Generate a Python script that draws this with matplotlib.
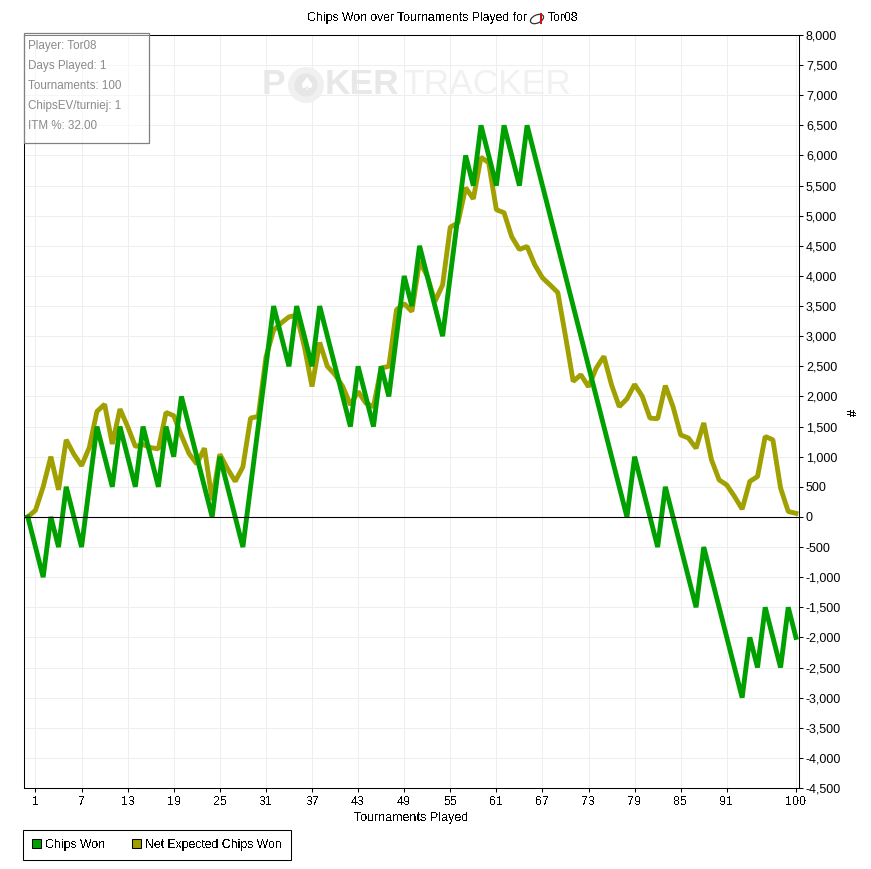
#!/usr/bin/env python
"""Chips won over tournaments played, PokerTracker style graph."""
import matplotlib
matplotlib.use("Agg")
import matplotlib.pyplot as plt
from matplotlib.patches import Ellipse, Patch, Rectangle

W, H = 871, 869
GREEN = "#00a000"
OLIVE = "#a0a000"
GRID = "#eeeeee"

TOURNAMENTS = list(range(0, 101))
CHIPS_WON = [0, -500, -1000, 0, -500, 500, 0, -500, 500, 1500,
             1000, 500, 1500, 1000, 500, 1500, 1000, 500, 1500, 1000,
             2000, 1500, 1000, 500, 0, 1000, 500, 0, -500, 500,
             1500, 2500, 3500, 3000, 2500, 3500, 3000, 2500, 3500, 3000,
             2500, 2000, 1500, 2500, 2000, 1500, 2500, 2000, 3000, 4000,
             3500, 4500, 4000, 3500, 3000, 4000, 5000, 6000, 5500, 6500,
             6000, 5500, 6500, 6000, 5500, 6500, 6000, 5500, 5000, 4500,
             4000, 3500, 3000, 2500, 2000, 1500, 1000, 500, 0, 1000,
             500, 0, -500, 500, 0, -500, -1000, -1500, -500, -1000,
             -1500, -2000, -2500, -3000, -2000, -2500, -1500, -2000, -2500, -1500,
             -2000]
NET_EXPECTED = [0, 110, 500, 1000, 450, 1280, 1040, 850, 1150, 1750,
                1870, 1210, 1790, 1500, 1170, 1200, 1150, 1130, 1735, 1680,
                1350, 1050, 880, 1140, 280, 1040, 800, 590, 830, 1640,
                1670, 2650, 3100, 3220, 3320, 3350, 2830, 2165, 2895, 2500,
                2360, 2165, 1860, 2080, 1890, 1830, 2470, 2500, 3440, 3540,
                3410, 4240, 4000, 3575, 3850, 4810, 4880, 5465, 5280, 5970,
                5880, 5100, 5050, 4650, 4440, 4490, 4185, 3970, 3850, 3725,
                3000, 2250, 2360, 2160, 2470, 2665, 2190, 1830, 1960, 2200,
                2000, 1640, 1630, 2180, 1830, 1360, 1310, 1140, 1560, 950,
                615, 530, 340, 130, 590, 670, 1335, 1280, 480, 90,
                60]
X_TICKS = [1, 7, 13, 19, 25, 31, 37, 43, 49, 55, 61, 67, 73, 79, 85, 91, 100]
Y_TICKS = list(range(-4500, 8001, 500))
INFO_LINES = ["Player: Tor08", "Days Played: 1", "Tournaments: 100",
              "ChipsEV/turniej: 1", "ITM %: 32.00"]

plt.rcParams.update({"font.family": ["Liberation Sans", "DejaVu Sans"], "font.size": 9,
                     "axes.linewidth": 0.75, "xtick.major.width": 0.75, "ytick.major.width": 0.75,
                     "xtick.major.size": 3, "ytick.major.size": 3, "text.antialiased": False})


def px(x, y):
    return x / W, 1 - y / H


def main():
    fig = plt.figure(figsize=(W / 100, H / 100), dpi=100, facecolor="white")
    left, top = px(23.5, 35)
    right, bottom = px(799, 788)
    ax = fig.add_axes([left, bottom, right - left, top - bottom])
    ax.set_xlim(-0.56, 100.4)
    ax.set_ylim(-4500, 8000)
    ax.set_xticks(X_TICKS)
    ax.set_yticks(Y_TICKS)
    ax.set_yticklabels([f"{v:,}" for v in Y_TICKS])
    ax.yaxis.tick_right()
    ax.tick_params(axis="x", colors="black", pad=3)
    ax.tick_params(axis="y", colors="black", pad=2)
    # aliased commas collapse into dots, so these labels stay smooth
    for lab in ax.get_yticklabels():
        lab.set_antialiased(True)
    ax.grid(True, color=GRID, lw=0.72, zorder=0)
    ax.set_axisbelow(True)
    ax.axhline(0, color="black", lw=0.8, zorder=5)
    ax.plot(TOURNAMENTS, NET_EXPECTED, color=OLIVE, lw=3.5, solid_joinstyle="bevel", zorder=3)
    ax.plot(TOURNAMENTS, CHIPS_WON, color=GREEN, lw=3.5, solid_joinstyle="bevel", zorder=4)

    # watermark
    wm = dict(fontsize=25.5, va="center", ha="left", antialiased=True)
    fig.text(*px(262, 85), "P", color="#e8e8e8", fontweight="bold", **wm)
    fig.text(*px(325, 85), "KER", color="#e8e8e8", fontweight="bold", **wm)
    fig.text(*px(402, 85), "TRACKER", color="#f1f1f1", **wm)
    cx, cy = px(306, 85)
    fig.add_artist(Ellipse((cx, cy), 36 / W, 36 / H, facecolor="#f0f0f0", edgecolor="none"))
    fig.add_artist(Ellipse((cx, cy), 23 / W, 23 / H, facecolor="#e6e6e6", edgecolor="none"))
    fig.text(cx, cy, "\u2660", color="white", fontsize=13, ha="center", va="center",
             family="DejaVu Sans", antialiased=True)

    # title with the little site icon
    fig.text(*px(527, 18), "Chips Won over Tournaments Played for", fontsize=8.85, ha="right", va="center")
    fig.text(*px(548, 18), "Tor08", fontsize=8.85, ha="left", va="center")
    ix, iy = px(537, 19)
    fig.add_artist(Ellipse((ix, iy), 14 / W, 8 / H, angle=25, facecolor="white", edgecolor="#333333", lw=0.9))
    fig.add_artist(Rectangle(px(539.5, 24), 2 / W, 11 / H, facecolor="#d01010", edgecolor="none"))

    # player info box
    x0, y1 = px(23.5, 142.5)
    x1, y0 = px(148.5, 33.5)
    fig.add_artist(Rectangle((x0, y1), x1 - x0, y0 - y1, facecolor="white", alpha=0.5, edgecolor="none", zorder=6))
    fig.add_artist(Rectangle((x0, y1), x1 - x0, y0 - y1, fill=False, edgecolor="#808080", lw=0.9, zorder=7))
    for i, line in enumerate(INFO_LINES):
        fig.text(*px(28, 46 + 20 * i), line, color="#8a8a8a", fontsize=8.4, va="center", zorder=8,
                 antialiased=True)

    # axis labels
    fig.text(*px(411.5, 818), "Tournaments Played", fontsize=9, ha="center", va="center")
    fig.text(*px(854, 412), "#", fontsize=9, rotation=90, ha="center", va="center")

    handles = [Patch(facecolor=GREEN, edgecolor="black", lw=0.75, label="Chips Won"),
               Patch(facecolor=OLIVE, edgecolor="black", lw=0.75, label="Net Expected Chips Won")]
    leg = fig.legend(handles=handles, ncol=2, loc="lower left", bbox_to_anchor=px(23.3, 860),
                     bbox_transform=fig.transFigure, borderaxespad=0, fancybox=False, framealpha=1,
                     edgecolor="black", fontsize=8.85, handlelength=0.72, handleheight=0.72,
                     handletextpad=0.32, columnspacing=2.2, borderpad=0.74)
    leg.get_frame().set_linewidth(0.75)

    fig.savefig("out.png", dpi=100)
    plt.close(fig)


if __name__ == "__main__":
    main()
